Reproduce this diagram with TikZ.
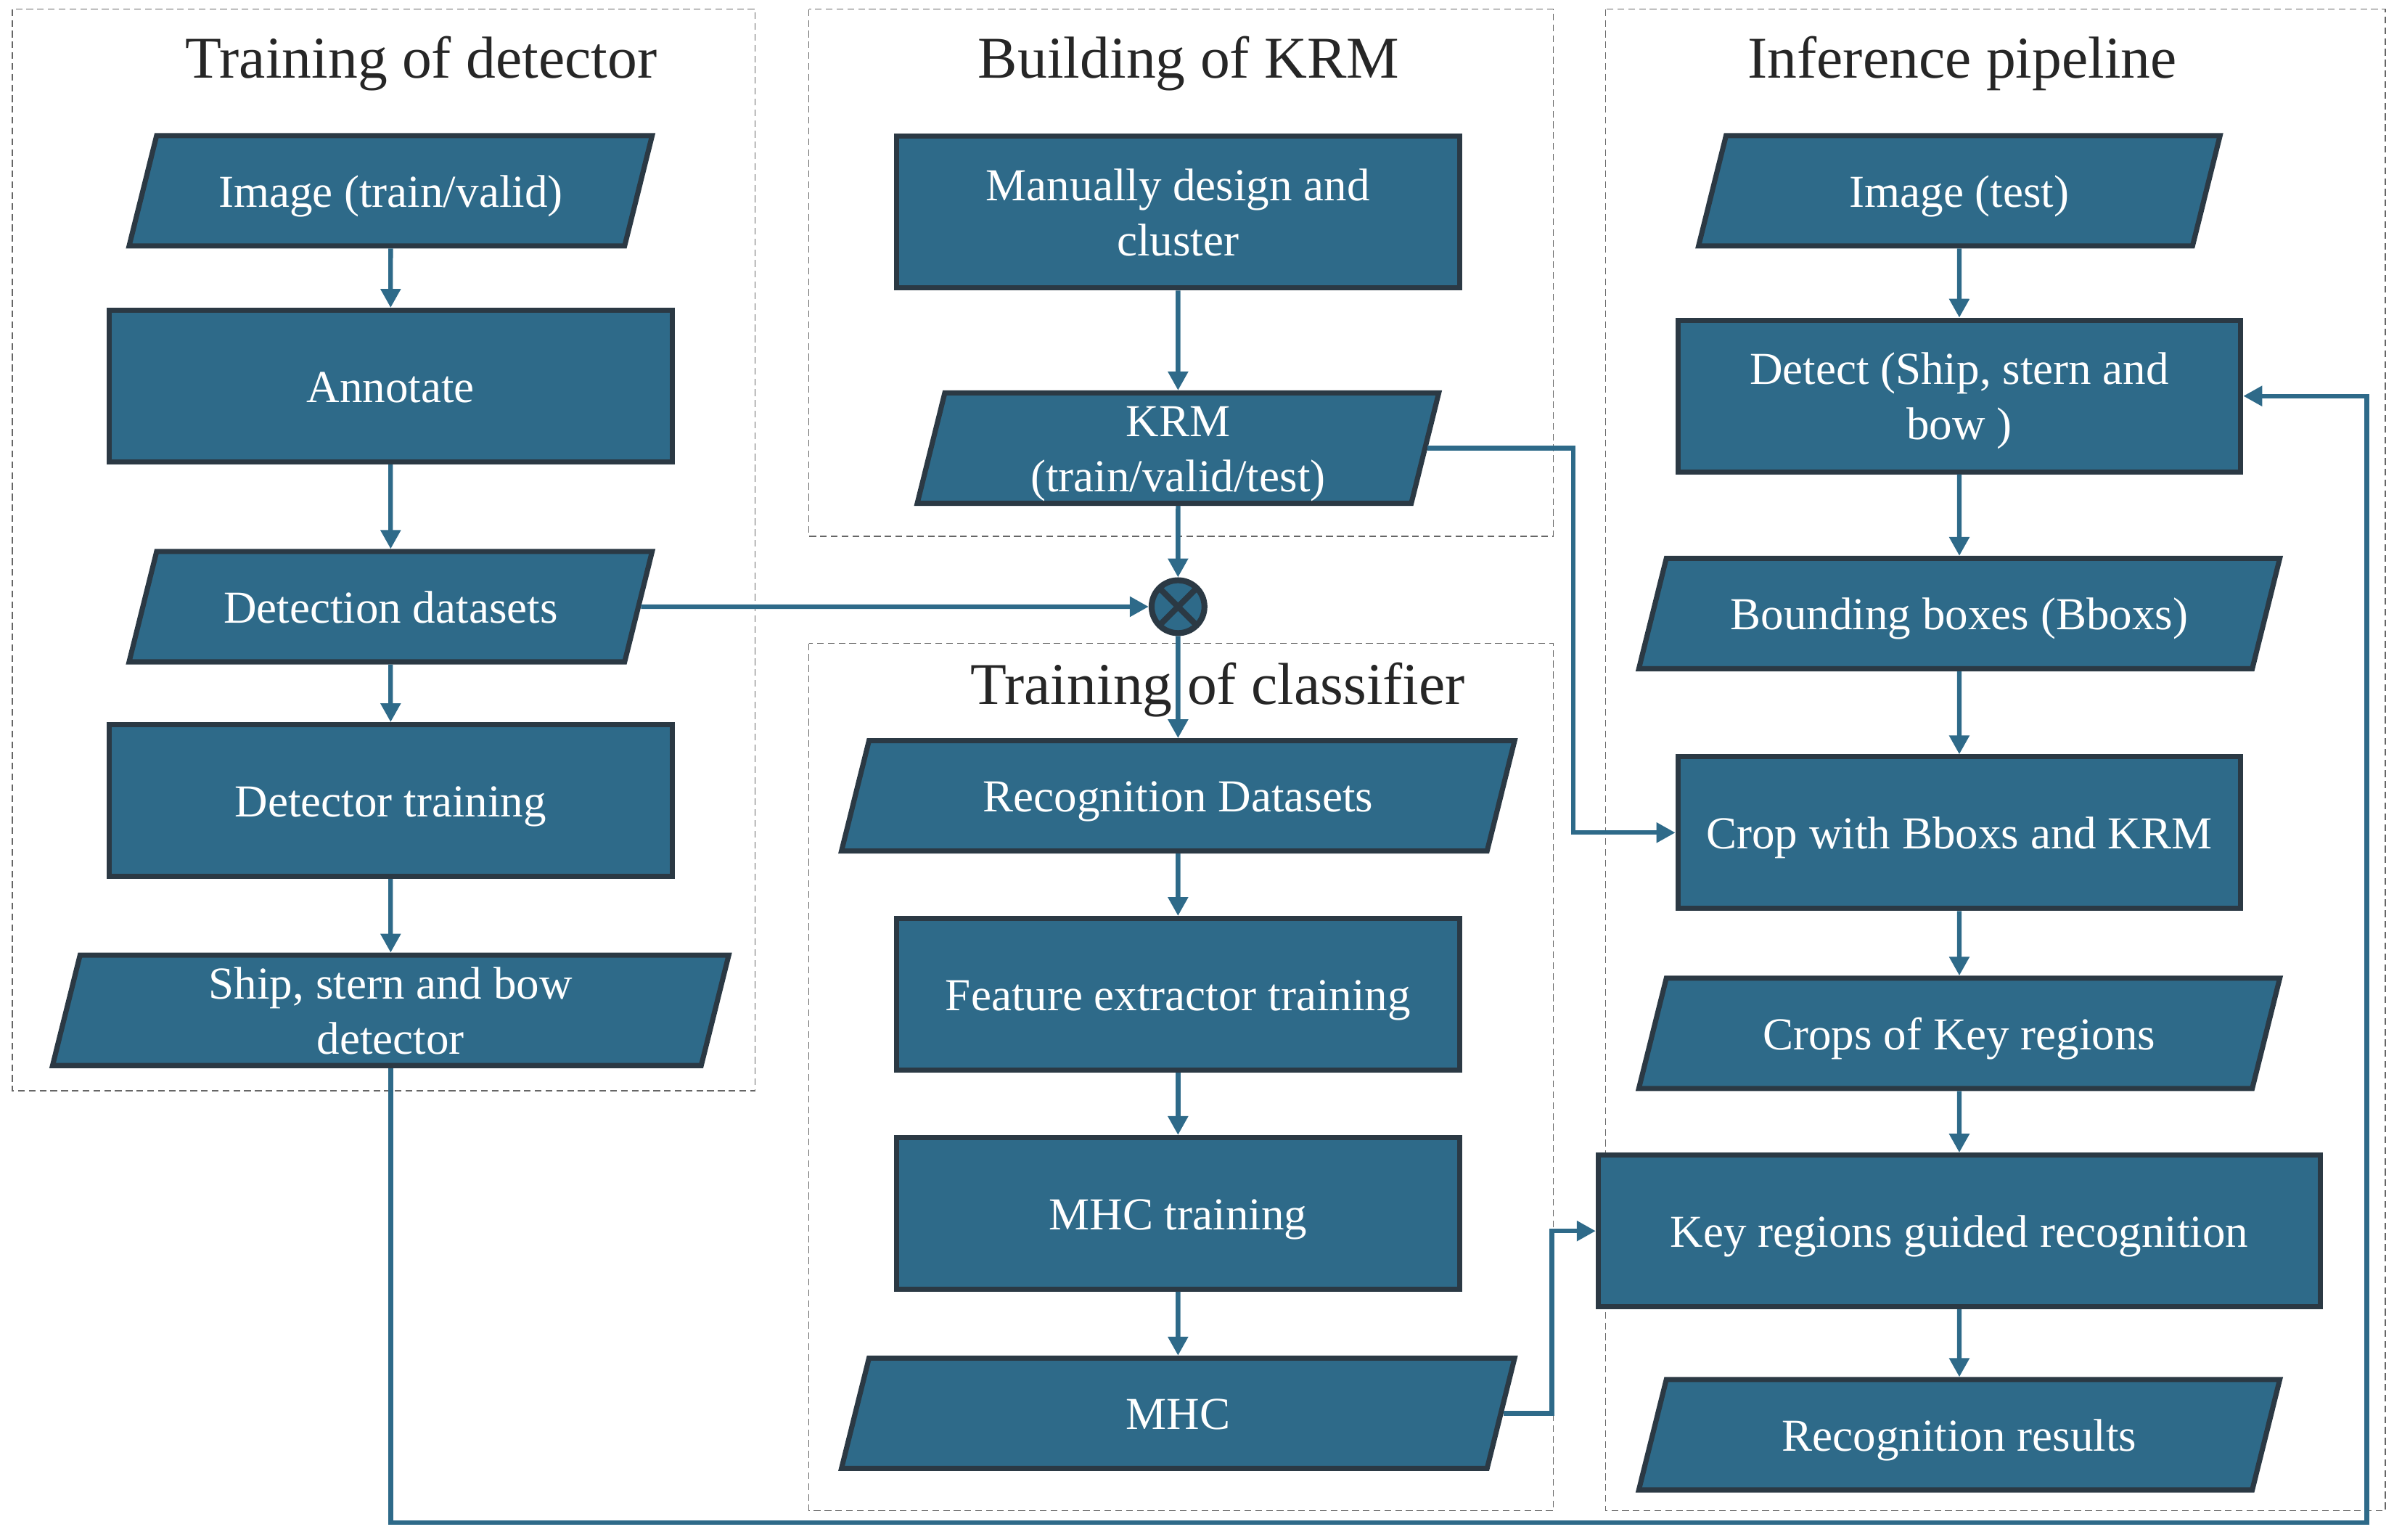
\documentclass[tikz,border=0pt]{standalone}
\usepackage{fontspec}
\setmainfont{Liberation Serif}
\usetikzlibrary{arrows.meta,shapes.geometric}

\definecolor{boxfill}{RGB}{46,106,137}
\definecolor{boxline}{RGB}{43,57,68}
\definecolor{titlegray}{RGB}{38,38,38}
\newcommand{\boxfont}{\fontsize{17}{20.5}\selectfont}
\newcommand{\titlefont}{\fontsize{22}{26}\selectfont}

\begin{document}
\begin{tikzpicture}[
  x=0.02cm, y=-0.02cm,
  procbox/.style={rectangle, draw=boxline, fill=boxfill, line width=1.9pt,
    text=white, font=\boxfont, align=center, text height=15.5pt, text depth=3.5pt,
    minimum width=7.35cm, minimum height=1.98cm},
  iobox/.style={trapezium, trapezium left angle=76, trapezium right angle=104,
    trapezium stretches body, draw=boxline, fill=boxfill, line width=1.9pt,
    text=white, font=\boxfont, align=center,
    text height=15.5pt, text depth=3.5pt, inner ysep=11pt,
    minimum width=6.83cm},
  twolines/.style={text height=36pt, inner ysep=0.75pt},
  wideio/.style={minimum width=8.37cm},
  mergenode/.style={circle, draw=boxline, fill=boxfill, line width=2.2pt,
    minimum size=0.69cm, inner sep=0pt,
    path picture={\draw[boxline, line width=2.2pt]
      (path picture bounding box.north west) -- (path picture bounding box.south east)
      (path picture bounding box.north east) -- (path picture bounding box.south west);}},
  groupbox/.style={draw=black!60, line width=0.4pt, dash pattern=on 2.5pt off 1.5pt},
  grouptitle/.style={font=\titlefont, text=titlegray},
  flowarrow/.style={draw=boxfill, line width=1.7pt, -{Triangle[length=7pt, width=7.2pt]}}
]
  \useasboundingbox (0,0) rectangle (1568,1005);

  % dashed groups
  \draw[groupbox] (8,6) rectangle (493,712);
  \draw[groupbox] (528,6) rectangle (1014,350);
  \draw[groupbox] (528,420) rectangle (1014,986);
  \draw[groupbox] (1048,6) rectangle (1557,986);

  % Training of detector
  \node[grouptitle] (tdet) at (275,41.5) {Training of detector};
  \node[iobox] (img1) at (255,124.5) {Image (train/valid)};
  \node[procbox] (ann) at (255,252) {Annotate};
  \node[iobox] (detdata) at (255,396) {Detection datasets};
  \node[procbox] (dettrain) at (255,522.5) {Detector training};
  \node[iobox, twolines, minimum width=8.83cm] (detector) at (255,659.5) {Ship, stern and bow\\detector};

  % Building of KRM
  \node[grouptitle] (tkrm) at (776,41.5) {Building of KRM};
  \node[procbox, twolines] (manual) at (769,138.5) {Manually design and\\cluster};
  \node[iobox, twolines, minimum width=6.81cm] (krm) at (769,292.5) {KRM\\(train/valid/test)};
  \node[mergenode] (mix) at (769,396) {};

  % Training of classifier
  \node[grouptitle] (tcls) at (795,450.5) {Training of classifier};
  \node[iobox, minimum width=8.79cm] (recdata) at (769,519.5) {Recognition Datasets};
  \node[procbox] (feat) at (769,649) {Feature extractor training};
  \node[procbox] (mhctrain) at (769,792) {MHC training};
  \node[iobox, minimum width=8.79cm] (mhc) at (769,922.5) {MHC};

  % Inference pipeline
  \node[grouptitle] (tinf) at (1281,41.5) {Inference pipeline};
  \node[iobox, minimum width=6.81cm] (img2) at (1279,124.5) {Image (test)};
  \node[procbox, twolines] (detect) at (1279,258.5) {Detect (Ship, stern and\\bow )};
  \node[iobox, wideio] (bbox) at (1279,400.5) {Bounding boxes (Bboxs)};
  \node[procbox] (crop) at (1279,543.5) {Crop with Bboxs and KRM};
  \node[iobox, wideio] (crops) at (1279,674.5) {Crops of Key regions};
  \node[procbox, minimum width=9.43cm] (keyrec) at (1279,803.5) {Key regions guided recognition};
  \node[iobox, wideio] (result) at (1279,936.5) {Recognition results};

  \coordinate (krmbend) at (1027,0);
  \coordinate (mhcbend) at (1013,0);
  \coordinate (fbbottom) at (0,994);
  \coordinate (fbright) at (1545,0);

  % column flows
  \draw[flowarrow] (img1) -- (ann);
  \draw[flowarrow] (ann) -- (detdata);
  \draw[flowarrow] (detdata) -- (dettrain);
  \draw[flowarrow] (dettrain) -- (detector);
  \draw[flowarrow] (manual) -- (krm);
  \draw[flowarrow] (krm) -- (mix);
  \draw[flowarrow] (mix) -- (recdata);
  \draw[flowarrow] (recdata) -- (feat);
  \draw[flowarrow] (feat) -- (mhctrain);
  \draw[flowarrow] (mhctrain) -- (mhc);
  \draw[flowarrow] (img2) -- (detect);
  \draw[flowarrow] (detect) -- (bbox);
  \draw[flowarrow] (bbox) -- (crop);
  \draw[flowarrow] (crop) -- (crops);
  \draw[flowarrow] (crops) -- (keyrec);
  \draw[flowarrow] (keyrec) -- (result);

  % cross links
  \draw[flowarrow] (detdata.east) -- (mix.west);
  \draw[flowarrow] (krm.east) -| (krmbend |- crop.west) -- (crop.west);
  \draw[flowarrow] (mhc.east) -| (mhcbend |- keyrec.west) -- (keyrec.west);
  \draw[flowarrow] (detector.south) |- (fbright |- fbbottom) |- (detect.east);
\end{tikzpicture}
\end{document}
